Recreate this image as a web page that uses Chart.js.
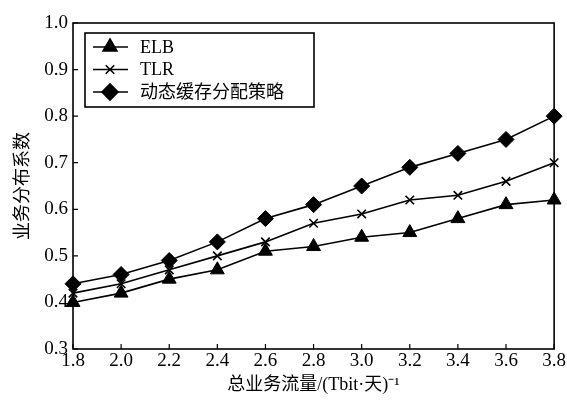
<!DOCTYPE html>
<html>
<head>
<meta charset="utf-8">
<script src="https://cdn.jsdelivr.net/npm/chart.js@4/dist/chart.umd.min.js"></script>
<style>
  html, body { margin: 0; padding: 0; background: #fff; }
  canvas { display: block; }
</style>
</head>
<body>
<canvas id="chart" width="567" height="402"></canvas>
<script>
// data
const trafficLabels = ['1.8', '2.0', '2.2', '2.4', '2.6', '2.8', '3.0', '3.2', '3.4', '3.6', '3.8'];
const elbValues = [0.40, 0.42, 0.45, 0.47, 0.51, 0.52, 0.54, 0.55, 0.58, 0.61, 0.62];
const tlrValues = [0.42, 0.44, 0.47, 0.50, 0.53, 0.57, 0.59, 0.62, 0.63, 0.66, 0.70];
const dynamicValues = [0.44, 0.46, 0.49, 0.53, 0.58, 0.61, 0.65, 0.69, 0.72, 0.75, 0.80];
const seriesNames = ['ELB', 'TLR', '动态缓存分配策略'];

const FONT = '"Liberation Serif", "Times New Roman", "Noto Sans CJK SC", serif';

const makeSet = (label, data, style, radius) => ({
  label,
  data,
  borderColor: '#000',
  backgroundColor: '#000',
  borderWidth: 1.6,
  pointStyle: style,
  pointRadius: radius,
  pointBorderWidth: style === 'crossRot' ? 1.6 : 1,
  pointBackgroundColor: '#000',
  pointBorderColor: '#000',
  tension: 0,
  fill: false,
});

// frame, inward ticks and line+marker legend
const framePlugin = {
  id: 'frame',
  afterDraw(chart) {
    const { ctx, chartArea: a, scales } = chart;
    ctx.save();
    ctx.strokeStyle = '#000';
    ctx.lineWidth = 1.6;
    ctx.strokeRect(a.left, a.top, a.right - a.left, a.bottom - a.top);

    ctx.lineWidth = 1.2;
    ctx.beginPath();
    scales.y.ticks.forEach((t) => {
      const py = scales.y.getPixelForValue(t.value);
      ctx.moveTo(a.left, py);
      ctx.lineTo(a.left + 5, py);
    });
    scales.x.ticks.forEach((t, i) => {
      const px = scales.x.getPixelForTick(i);
      ctx.moveTo(px, a.bottom);
      ctx.lineTo(px, a.bottom - 5);
    });
    ctx.stroke();

    // legend
    const bx = a.left + 12, by = a.top + 10, bw = 229, bh = 74;
    ctx.lineWidth = 1.6;
    ctx.strokeRect(bx, by, bw, bh);
    ctx.font = '18px ' + FONT;
    ctx.fillStyle = '#000';
    ctx.textBaseline = 'middle';
    chart.data.datasets.forEach((ds, i) => {
      const ry = by + 14 + i * 22.5;
      ctx.lineWidth = 1.6;
      ctx.beginPath();
      ctx.moveTo(bx + 8, ry);
      ctx.lineTo(bx + 43, ry);
      ctx.stroke();
      Chart.helpers.drawPoint(ctx, {
        pointStyle: ds.pointStyle,
        radius: ds.pointRadius,
        rotation: 0,
        borderWidth: ds.pointBorderWidth,
      }, bx + 25, ry);
      ctx.fillText(ds.label, bx + 55, ry + 1);
    });
    ctx.restore();
  },
};

new Chart(document.getElementById('chart'), {
  type: 'line',
  data: {
    labels: trafficLabels,
    datasets: [
      makeSet(seriesNames[0], elbValues, 'triangle', 8),
      makeSet(seriesNames[1], tlrValues, 'crossRot', 6),
      makeSet(seriesNames[2], dynamicValues, 'rectRot', 8),
    ],
  },
  options: {
    responsive: false,
    animation: false,
    devicePixelRatio: 1,
    layout: { padding: { top: 23, right: 12, left: 0, bottom: 0 } },
    plugins: { legend: { display: false }, tooltip: { enabled: false } },
    scales: {
      x: {
        type: 'category',
        offset: false,
        grid: { display: false, drawTicks: false },
        border: { display: false },
        ticks: { color: '#000', padding: 1, maxRotation: 0, font: { family: FONT, size: 19 } },
        title: {
          display: true,
          text: '总业务流量/(Tbit·天)⁻¹',
          color: '#000',
          font: { family: FONT, size: 18 },
          padding: { top: 4, bottom: 6 },
        },
        afterFit(scale) { scale.height = 53; },
      },
      y: {
        min: 0.3,
        max: 1.0,
        grid: { display: false, drawTicks: false },
        border: { display: false },
        ticks: {
          stepSize: 0.1,
          color: '#000',
          padding: 5,
          font: { family: FONT, size: 19 },
          callback: (v) => v.toFixed(1),
        },
        title: {
          display: true,
          text: '业务分布系数',
          color: '#000',
          font: { family: FONT, size: 18 },
          padding: { top: 12, bottom: 0 },
        },
        afterFit(scale) { scale.width = 73; },
      },
    },
  },
  plugins: [framePlugin],
});
</script>
</body>
</html>
